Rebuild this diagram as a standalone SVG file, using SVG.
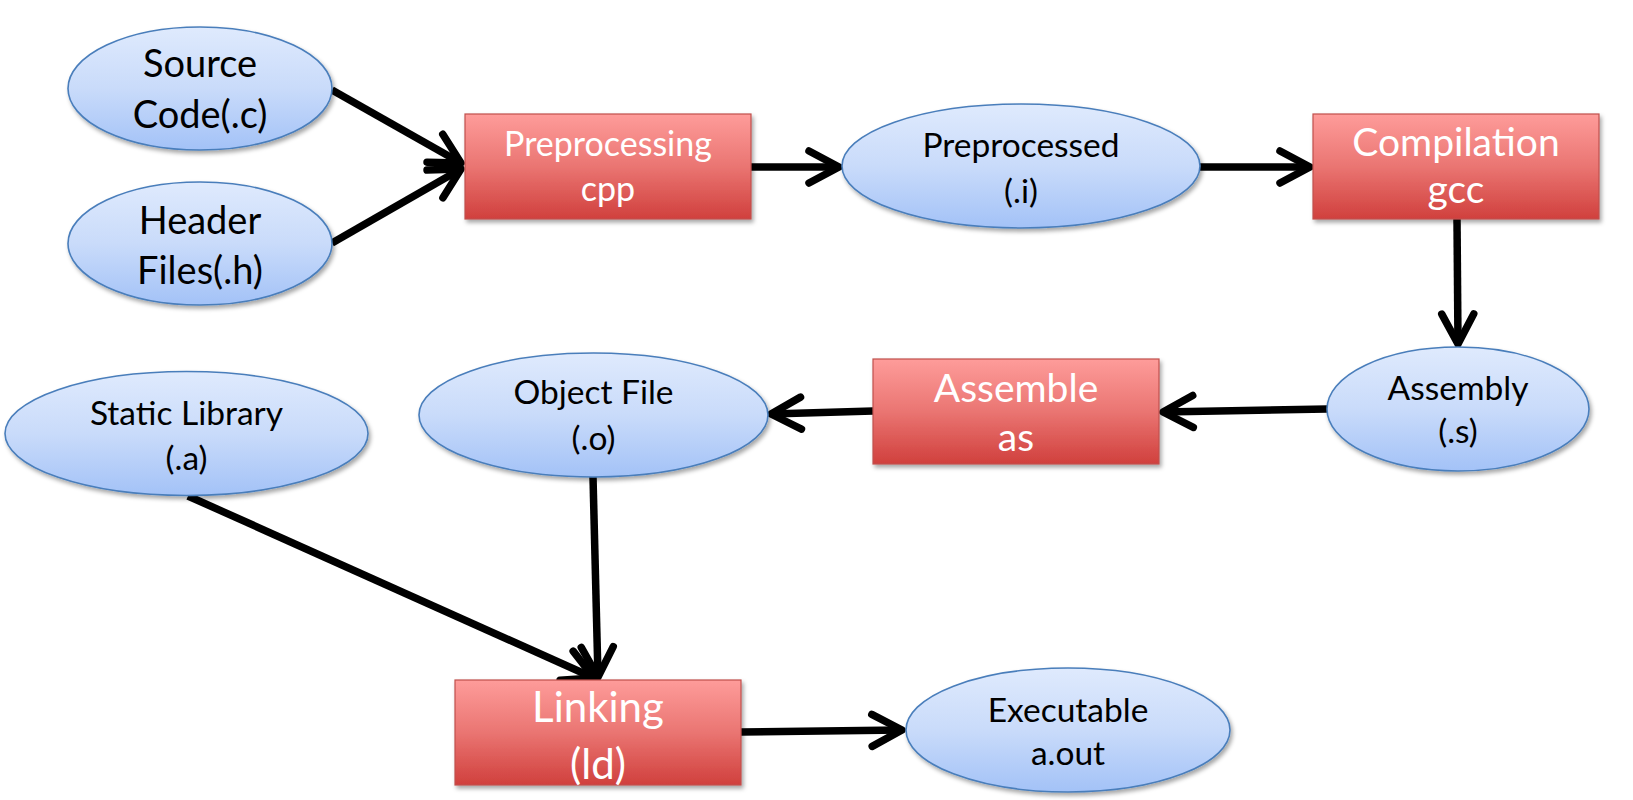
<svg xmlns="http://www.w3.org/2000/svg" width="1633" height="800" viewBox="0 0 1633 800">
  <defs>
    <linearGradient id="gEllipse" x1="0" y1="0" x2="0" y2="1">
      <stop offset="0" stop-color="#dfeafd"/>
      <stop offset="0.5" stop-color="#c9dbfa"/>
      <stop offset="1" stop-color="#a3c2f7"/>
    </linearGradient>
    <linearGradient id="gBox" x1="0" y1="0" x2="0" y2="1">
      <stop offset="0" stop-color="#fe9c9a"/>
      <stop offset="0.5" stop-color="#ea7572"/>
      <stop offset="1" stop-color="#d0403d"/>
    </linearGradient>
    <filter id="shadow" x="-10%" y="-10%" width="125%" height="135%">
      <feDropShadow dx="2" dy="3" stdDeviation="2.2" flood-color="#000" flood-opacity="0.35"/>
    </filter>
    <marker id="head" markerUnits="userSpaceOnUse" viewBox="-40 -22 46 44" refX="0" refY="0" markerWidth="46" markerHeight="44" orient="auto">
      <path d="M -30 -16 L 0 0 L -30 16" fill="none" stroke="#000" stroke-width="7.5" stroke-linecap="round" stroke-linejoin="round"/>
    </marker>
  </defs>
  <style>
    .ell { fill: url(#gEllipse); stroke: #4a7ebb; stroke-width: 1.6; filter: url(#shadow); }
    .box { fill: url(#gBox); stroke: #c0504d; stroke-width: 1.2; filter: url(#shadow); }
    .dark { font-family: Lato, "Open Sans", "Liberation Sans", sans-serif; fill: #000; text-anchor: middle; }
    .light { font-family: Lato, "Open Sans", "Liberation Sans", sans-serif; fill: #fff; text-anchor: middle; }
    .conn { fill: none; stroke: #000; stroke-width: 7.5; stroke-linecap: butt; marker-end: url(#head); }
  </style>

  <rect width="1633" height="800" fill="#fff"/>

  <!-- connectors -->
  <g id="connectors">
    <line class="conn" x1="332" y1="90" x2="461" y2="163"/>
    <line class="conn" x1="332" y1="243" x2="461" y2="169"/>
    <line class="conn" x1="751" y1="167" x2="839" y2="167"/>
    <line class="conn" x1="1200" y1="167" x2="1310" y2="167"/>
    <line class="conn" x1="1457" y1="219" x2="1458" y2="344"/>
    <line class="conn" x1="1327" y1="409" x2="1163" y2="412"/>
    <line class="conn" x1="873" y1="411" x2="771" y2="414"/>
    <line class="conn" x1="188" y1="496" x2="594" y2="678"/>
    <line class="conn" x1="593" y1="477" x2="598" y2="677"/>
    <line class="conn" x1="741" y1="732" x2="902" y2="730"/>
  </g>

  <!-- source code -->
  <g id="source-code">
    <ellipse class="ell" cx="200" cy="88.5" rx="132" ry="61.5"/>
    <text class="dark" x="200" y="77" font-size="38">Source</text>
    <text class="dark" x="200" y="128" font-size="38">Code(.c)</text>
  </g>

  <!-- header files -->
  <g id="header-files">
    <ellipse class="ell" cx="200" cy="243.5" rx="132" ry="61.5"/>
    <text class="dark" x="200" y="234" font-size="38">Header</text>
    <text class="dark" x="200" y="284" font-size="38">Files(.h)</text>
  </g>

  <!-- preprocessing -->
  <g id="preprocessing">
    <rect class="box" x="465" y="114" width="286" height="105"/>
    <text class="light" x="608" y="156" font-size="34">Preprocessing</text>
    <text class="light" x="608" y="201" font-size="34">cpp</text>
  </g>

  <!-- preprocessed -->
  <g id="preprocessed">
    <ellipse class="ell" cx="1021" cy="166" rx="179" ry="62"/>
    <text class="dark" x="1021" y="157" font-size="33.5">Preprocessed</text>
    <text class="dark" x="1021" y="203" font-size="33.5">(.i)</text>
  </g>

  <!-- compilation -->
  <g id="compilation">
    <rect class="box" x="1313" y="114" width="286" height="105"/>
    <text class="light" x="1456" y="156" font-size="39">Compilation</text>
    <text class="light" x="1456" y="203" font-size="39">gcc</text>
  </g>

  <!-- assembly -->
  <g id="assembly">
    <ellipse class="ell" cx="1458" cy="409" rx="131" ry="62"/>
    <text class="dark" x="1458" y="400" font-size="33.5">Assembly</text>
    <text class="dark" x="1458" y="443" font-size="33.5">(.s)</text>
  </g>

  <!-- assemble -->
  <g id="assemble">
    <rect class="box" x="873" y="359" width="286" height="105"/>
    <text class="light" x="1016" y="402" font-size="39">Assemble</text>
    <text class="light" x="1016" y="451" font-size="39">as</text>
  </g>

  <!-- object file -->
  <g id="object-file">
    <ellipse class="ell" cx="593.5" cy="415" rx="174.5" ry="62"/>
    <text class="dark" x="593.5" y="404" font-size="33.5">Object File</text>
    <text class="dark" x="593.5" y="450" font-size="33.5">(.o)</text>
  </g>

  <!-- static library -->
  <g id="static-library">
    <ellipse class="ell" cx="186.5" cy="433.5" rx="181.5" ry="62"/>
    <text class="dark" x="186.5" y="425" font-size="33.5">Static Library</text>
    <text class="dark" x="186.5" y="470" font-size="33.5">(.a)</text>
  </g>

  <!-- linking -->
  <g id="linking">
    <rect class="box" x="455" y="680" width="286" height="105"/>
    <text class="light" x="598" y="722" font-size="42">Linking</text>
    <text class="light" x="598" y="779" font-size="42">(ld)</text>
  </g>

  <!-- executable -->
  <g id="executable">
    <ellipse class="ell" cx="1068" cy="730" rx="162" ry="62"/>
    <text class="dark" x="1068" y="722" font-size="33.5">Executable</text>
    <text class="dark" x="1068" y="765" font-size="33.5">a.out</text>
  </g>
</svg>
